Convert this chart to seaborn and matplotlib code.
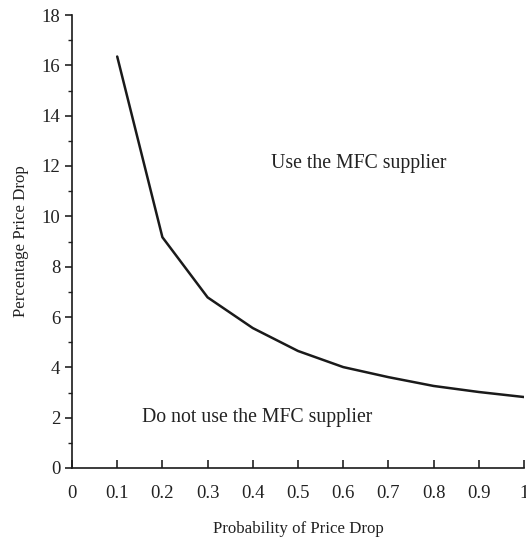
import numpy as np
import pandas as pd
import matplotlib
matplotlib.use("Agg")
import matplotlib.pyplot as plt
import seaborn as sns
from matplotlib.ticker import MultipleLocator

prob = [0.1, 0.2, 0.3, 0.4, 0.5, 0.6, 0.7, 0.8, 0.9, 1.0]
pct_drop = [16.35, 9.17, 6.78, 5.56, 4.65, 4.01, 3.61, 3.26, 3.02, 2.82]
xticks = [0, 0.1, 0.2, 0.3, 0.4, 0.5, 0.6, 0.7, 0.8, 0.9, 1]
xtick_labels = ["0", "0.1", "0.2", "0.3", "0.4", "0.5", "0.6", "0.7", "0.8", "0.9", "1"]

sns.set_style("ticks")
plt.rcParams["font.family"] = ["Liberation Serif", "DejaVu Serif"]

df = pd.DataFrame({"prob": prob, "pct": pct_drop})

fig = plt.figure(figsize=(5.26, 5.39), dpi=100)
ax = fig.add_axes([72 / 526, 1 - 468 / 539, 452 / 526, 453 / 539])
sns.lineplot(data=df, x="prob", y="pct", color="#1a1a1a", linewidth=1.8, ax=ax)

ax.set_xlim(0, 1)
ax.set_ylim(0, 18)
ax.set_xticks(xticks)
ax.set_xticklabels(xtick_labels)
ax.yaxis.set_major_locator(MultipleLocator(2))
ax.yaxis.set_minor_locator(MultipleLocator(1))
ax.tick_params(axis="x", direction="in", length=6, width=1.2, labelsize=13.5,
               pad=12, colors="#222222")
ax.tick_params(axis="y", which="major", direction="out", length=5, width=1.2,
               labelsize=13.5, colors="#222222")
ax.tick_params(axis="y", which="minor", direction="out", length=3, width=1.0,
               colors="#222222")
for s in ["top", "right"]:
    ax.spines[s].set_visible(False)
for s in ["left", "bottom"]:
    ax.spines[s].set_linewidth(1.2)
    ax.spines[s].set_color("#1a1a1a")

ax.set_xlabel("Probability of Price Drop", fontsize=12.2, labelpad=14, color="#222222")
ax.set_ylabel("Percentage Price Drop", fontsize=12.2, labelpad=9, color="#222222")

ax.text(0.44, 12.1, "Use the MFC supplier", fontsize=14.2, va="center", color="#222222")
ax.text(0.155, 2.0, "Do not use the MFC supplier", fontsize=14.2, va="center", color="#222222")

fig.savefig("out.png", dpi=100)
